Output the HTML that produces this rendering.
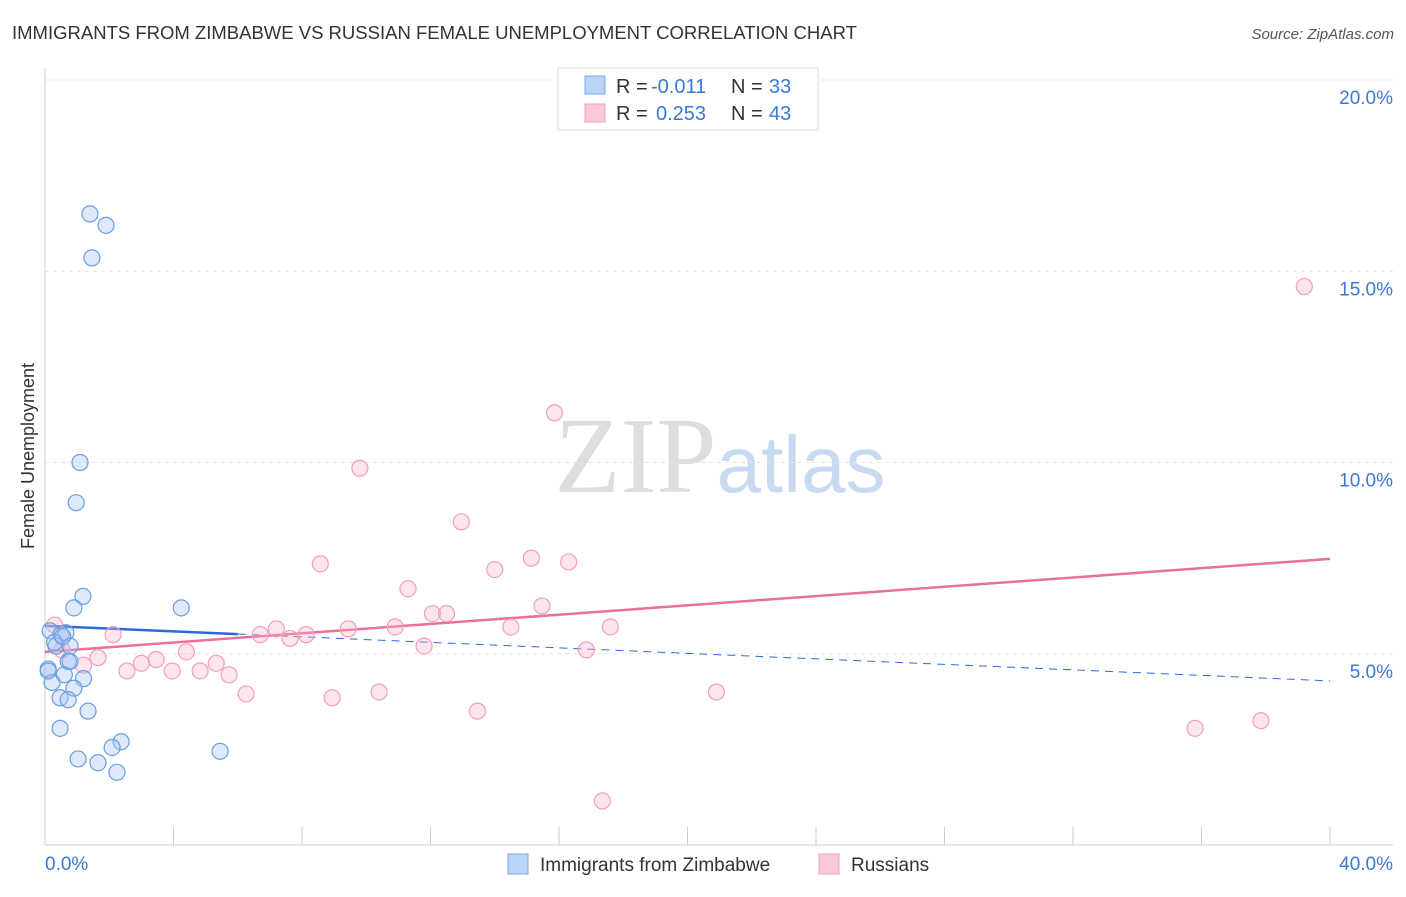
<!DOCTYPE html>
<html><head><meta charset="utf-8"><style>
body{margin:0;background:#fff;font-family:"Liberation Sans",sans-serif;}
svg text{font-family:"Liberation Sans",sans-serif;}
</style></head><body>
<svg width="1406" height="892" xmlns="http://www.w3.org/2000/svg">
<text x="12" y="39" font-size="18.5" fill="#333">IMMIGRANTS FROM ZIMBABWE VS RUSSIAN FEMALE UNEMPLOYMENT CORRELATION CHART</text>
<text x="1394" y="39" font-size="15" fill="#555" text-anchor="end" font-style="italic">Source: ZipAtlas.com</text>
<text transform="translate(34,456) rotate(-90)" font-size="18" fill="#333" text-anchor="middle">Female Unemployment</text>
<text x="720" y="492" font-size="108" text-anchor="middle"><tspan fill="#ddd" font-family="Liberation Serif">ZIP</tspan><tspan fill="#c8daf0" font-size="80">atlas</tspan></text>
<g id="grid"></g><g id="axes"></g><g id="trend"></g><g id="pts"></g>
<g>
<rect x="558" y="68" width="260" height="62" fill="#fff" stroke="#ddd"/>
<rect x="585" y="76" width="20" height="18" fill="#b8d4f8" stroke="#7aa8e8"/>
<rect x="585" y="104" width="20" height="18" fill="#fbc8d8" stroke="#f0a0b8"/>
<text x="616" y="93" font-size="20" fill="#333">R =</text>
<text x="651" y="93" font-size="20" fill="#3a78d8">-0.011</text>
<text x="731" y="93" font-size="20" fill="#333">N =</text>
<text x="769" y="93" font-size="20" fill="#3a78d8">33</text>
<text x="616" y="120" font-size="20" fill="#333">R =</text>
<text x="656" y="120" font-size="20" fill="#3a78d8">0.253</text>
<text x="731" y="120" font-size="20" fill="#333">N =</text>
<text x="769" y="120" font-size="20" fill="#3a78d8">43</text>
</g>
<g>
<rect x="508" y="854" width="20" height="20" fill="#b8d4f8" stroke="#7aa8e8"/>
<text x="540" y="871" font-size="19" fill="#333">Immigrants from Zimbabwe</text>
<rect x="819" y="854" width="20" height="20" fill="#fbc8d8" stroke="#f0a0b8"/>
<text x="851" y="871" font-size="19" fill="#333">Russians</text>
</g>
</svg>
<script>
const xTicks=[0,4,8,12,16,20,24,28,32,36,40];
const yTicks=[5,10,15,20];
const blueX=[1.4,1.9,1.46,1.09,0.97,1.18,0.9,4.24,0.16,0.5,0.65,0.34,0.78,0.72,0.1,0.6,0.22,1.2,0.9,0.47,0.72,1.34,0.47,2.37,2.09,1.03,1.65,2.24,5.45,0.1,0.78,0.3,0.55];
const blueY=[16.5,16.2,15.35,10.0,8.95,6.5,6.2,6.2,5.6,5.5,5.55,5.2,5.2,4.8,4.6,4.45,4.25,4.35,4.1,3.85,3.8,3.5,3.05,2.7,2.55,2.25,2.15,1.9,2.45,4.55,4.8,5.3,5.45];
const pinkX=[39.2,15.86,9.8,12.96,15.14,16.3,8.57,14.0,11.3,15.47,12.06,12.5,17.6,14.5,10.9,9.44,7.2,6.7,8.13,7.63,2.12,11.8,16.85,4.4,1.65,3.46,3.0,5.33,1.2,2.55,3.96,4.83,5.73,6.26,8.94,10.4,20.9,13.46,35.8,37.85,17.35,0.3,0.53];
const pinkY=[14.6,11.3,9.85,8.45,7.5,7.4,7.35,7.2,6.7,6.25,6.05,6.05,5.7,5.7,5.7,5.65,5.65,5.5,5.5,5.4,5.5,5.2,5.1,5.05,4.9,4.85,4.75,4.75,4.7,4.55,4.55,4.55,4.45,3.95,3.85,4.0,4.0,3.5,3.05,3.25,1.15,5.75,5.1];
const blueTrend=[5.73,4.29];
const pinkTrend=[5.05,7.48];
const X=v=>45+v*32.125, Y=v=>845-v*38.25;
const NS='http://www.w3.org/2000/svg';
function mk(t,a,p){const e=document.createElementNS(NS,t);for(const k in a)e.setAttribute(k,a[k]);document.getElementById(p).appendChild(e);return e;}
yTicks.forEach(t=>{
 const l=mk('line',{x1:45,x2:1393,y1:Y(t),y2:Y(t),stroke:'#e4e4e4','stroke-dasharray':'4,4'},'grid');
 
 
 const tx=mk('text',{x:1393,y:Y(t)+24,'font-size':19,fill:'#3a78d8','text-anchor':'end'},'grid');
 tx.textContent=t.toFixed(1)+'%';
 
 
});
let a=mk('line',{x1:45,x2:45,y1:68,y2:845,stroke:'#ccc'},'axes');


a=mk('line',{x1:45,x2:1393,y1:845,y2:845,stroke:'#ccc'},'axes');


xTicks.forEach(t=>{const l=mk('line',{x1:X(t),x2:X(t),y1:827,y2:845,stroke:'#ccc'},'axes');
 
 });
[[0,'0.0%','start',45],[40,'40.0%','end',1393]].forEach(d=>{const t=mk('text',{x:d[3],y:870,'font-size':19,fill:'#3a78d8','text-anchor':d[2]},'axes');t.textContent=d[1];
 
 });
let tl=mk('line',{x1:X(0),y1:Y(blueTrend[0]),x2:X(6),y2:Y(blueTrend[0]+(blueTrend[1]-blueTrend[0])*6/40),stroke:'#2a6ad8','stroke-width':2.5},'trend');


tl=mk('line',{x1:X(6),y1:Y(blueTrend[0]+(blueTrend[1]-blueTrend[0])*6/40),x2:X(40),y2:Y(blueTrend[1]),stroke:'#2a6ad8','stroke-width':1,'stroke-dasharray':'8,6'},'trend');


tl=mk('line',{x1:X(0),y1:Y(pinkTrend[0]),x2:X(40),y2:Y(pinkTrend[1]),stroke:'#e8709a','stroke-width':2.5},'trend');


pinkX.forEach((x,i)=>{const c=mk('circle',{cx:X(x),cy:Y(pinkY[i]),r:8,fill:'rgba(248,180,200,0.35)',stroke:'#f0a0b8','stroke-width':1.2},'pts');
 
 });
blueX.forEach((x,i)=>{const c=mk('circle',{cx:X(x),cy:Y(blueY[i]),r:8,fill:'rgba(160,195,245,0.35)',stroke:'#6a9de0','stroke-width':1.2},'pts');
 
 });
</script>
</body></html>
